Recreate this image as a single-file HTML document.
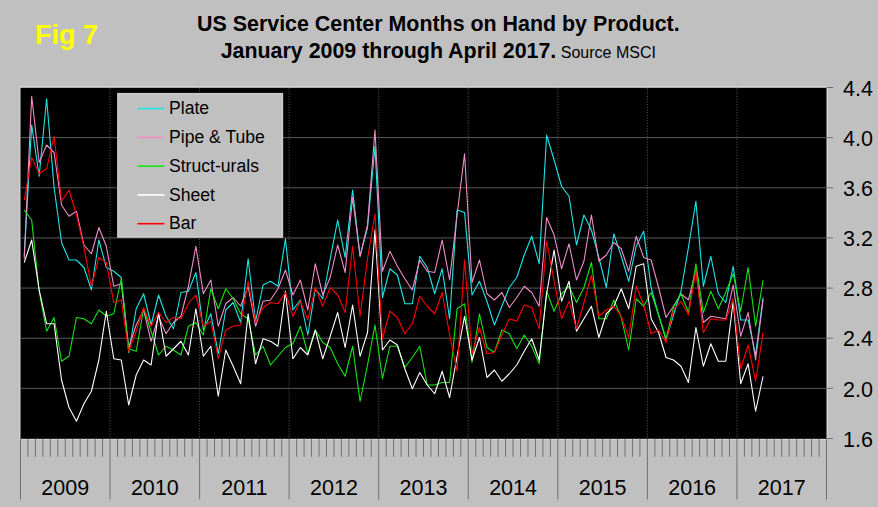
<!DOCTYPE html>
<html><head><meta charset="utf-8"><title>Fig 7</title><style>
html,body{margin:0;padding:0;}
body{width:878px;height:507px;background:#c0c0c0;overflow:hidden;position:relative;font-family:"Liberation Sans",sans-serif;}
svg{position:absolute;left:0;top:0;display:block;}
</style></head><body>
<svg width="878" height="507" viewBox="0 0 878 507" font-family="Liberation Sans, sans-serif">
<rect x="0" y="0" width="878" height="507" fill="#c0c0c0"/>
<text x="35" y="43.8" fill="#ffff00" font-weight="bold" font-size="27">Fig 7</text>
<text x="438.4" y="30.8" fill="#000" font-weight="bold" font-size="21.4" text-anchor="middle">US Service Center Months on Hand by Product.</text>
<text x="438.3" y="57.6" fill="#000" font-size="21.4" text-anchor="middle"><tspan font-weight="bold">January 2009 through April 2017.</tspan><tspan font-size="16"> Source MSCI</tspan></text>
<rect x="19.3" y="86.2" width="808.6" height="353.7" fill="#d6d6d6"/>
<rect x="20.5" y="87.8" width="806.0" height="351.0" fill="#000"/>
<g stroke="#5a5a5a" stroke-width="1"><line x1="20.50" y1="137.64" x2="826.50" y2="137.64"/><line x1="20.50" y1="187.79" x2="826.50" y2="187.79"/><line x1="20.50" y1="237.93" x2="826.50" y2="237.93"/><line x1="20.50" y1="288.08" x2="826.50" y2="288.08"/><line x1="20.50" y1="338.22" x2="826.50" y2="338.22"/><line x1="20.50" y1="388.36" x2="826.50" y2="388.36"/></g>
<g stroke="#5c5c5c" stroke-width="1" stroke-dasharray="1,1.7"><line x1="110.06" y1="87.80" x2="110.06" y2="438.80"/><line x1="199.61" y1="87.80" x2="199.61" y2="438.80"/><line x1="289.17" y1="87.80" x2="289.17" y2="438.80"/><line x1="378.72" y1="87.80" x2="378.72" y2="438.80"/><line x1="468.28" y1="87.80" x2="468.28" y2="438.80"/><line x1="557.83" y1="87.80" x2="557.83" y2="438.80"/><line x1="647.39" y1="87.80" x2="647.39" y2="438.80"/><line x1="736.94" y1="87.80" x2="736.94" y2="438.80"/></g>
<g stroke="#707070" stroke-width="1"><line x1="20.50" y1="438.80" x2="20.50" y2="499.5"/><line x1="27.96" y1="438.80" x2="27.96" y2="456.8"/><line x1="35.43" y1="438.80" x2="35.43" y2="456.8"/><line x1="42.89" y1="438.80" x2="42.89" y2="456.8"/><line x1="50.35" y1="438.80" x2="50.35" y2="456.8"/><line x1="57.81" y1="438.80" x2="57.81" y2="456.8"/><line x1="65.28" y1="438.80" x2="65.28" y2="456.8"/><line x1="72.74" y1="438.80" x2="72.74" y2="456.8"/><line x1="80.20" y1="438.80" x2="80.20" y2="456.8"/><line x1="87.67" y1="438.80" x2="87.67" y2="456.8"/><line x1="95.13" y1="438.80" x2="95.13" y2="456.8"/><line x1="102.59" y1="438.80" x2="102.59" y2="456.8"/><line x1="110.06" y1="438.80" x2="110.06" y2="499.5"/><line x1="117.52" y1="438.80" x2="117.52" y2="456.8"/><line x1="124.98" y1="438.80" x2="124.98" y2="456.8"/><line x1="132.44" y1="438.80" x2="132.44" y2="456.8"/><line x1="139.91" y1="438.80" x2="139.91" y2="456.8"/><line x1="147.37" y1="438.80" x2="147.37" y2="456.8"/><line x1="154.83" y1="438.80" x2="154.83" y2="456.8"/><line x1="162.30" y1="438.80" x2="162.30" y2="456.8"/><line x1="169.76" y1="438.80" x2="169.76" y2="456.8"/><line x1="177.22" y1="438.80" x2="177.22" y2="456.8"/><line x1="184.69" y1="438.80" x2="184.69" y2="456.8"/><line x1="192.15" y1="438.80" x2="192.15" y2="456.8"/><line x1="199.61" y1="438.80" x2="199.61" y2="499.5"/><line x1="207.07" y1="438.80" x2="207.07" y2="456.8"/><line x1="214.54" y1="438.80" x2="214.54" y2="456.8"/><line x1="222.00" y1="438.80" x2="222.00" y2="456.8"/><line x1="229.46" y1="438.80" x2="229.46" y2="456.8"/><line x1="236.93" y1="438.80" x2="236.93" y2="456.8"/><line x1="244.39" y1="438.80" x2="244.39" y2="456.8"/><line x1="251.85" y1="438.80" x2="251.85" y2="456.8"/><line x1="259.31" y1="438.80" x2="259.31" y2="456.8"/><line x1="266.78" y1="438.80" x2="266.78" y2="456.8"/><line x1="274.24" y1="438.80" x2="274.24" y2="456.8"/><line x1="281.70" y1="438.80" x2="281.70" y2="456.8"/><line x1="289.17" y1="438.80" x2="289.17" y2="499.5"/><line x1="296.63" y1="438.80" x2="296.63" y2="456.8"/><line x1="304.09" y1="438.80" x2="304.09" y2="456.8"/><line x1="311.56" y1="438.80" x2="311.56" y2="456.8"/><line x1="319.02" y1="438.80" x2="319.02" y2="456.8"/><line x1="326.48" y1="438.80" x2="326.48" y2="456.8"/><line x1="333.94" y1="438.80" x2="333.94" y2="456.8"/><line x1="341.41" y1="438.80" x2="341.41" y2="456.8"/><line x1="348.87" y1="438.80" x2="348.87" y2="456.8"/><line x1="356.33" y1="438.80" x2="356.33" y2="456.8"/><line x1="363.80" y1="438.80" x2="363.80" y2="456.8"/><line x1="371.26" y1="438.80" x2="371.26" y2="456.8"/><line x1="378.72" y1="438.80" x2="378.72" y2="499.5"/><line x1="386.19" y1="438.80" x2="386.19" y2="456.8"/><line x1="393.65" y1="438.80" x2="393.65" y2="456.8"/><line x1="401.11" y1="438.80" x2="401.11" y2="456.8"/><line x1="408.57" y1="438.80" x2="408.57" y2="456.8"/><line x1="416.04" y1="438.80" x2="416.04" y2="456.8"/><line x1="423.50" y1="438.80" x2="423.50" y2="456.8"/><line x1="430.96" y1="438.80" x2="430.96" y2="456.8"/><line x1="438.43" y1="438.80" x2="438.43" y2="456.8"/><line x1="445.89" y1="438.80" x2="445.89" y2="456.8"/><line x1="453.35" y1="438.80" x2="453.35" y2="456.8"/><line x1="460.81" y1="438.80" x2="460.81" y2="456.8"/><line x1="468.28" y1="438.80" x2="468.28" y2="499.5"/><line x1="475.74" y1="438.80" x2="475.74" y2="456.8"/><line x1="483.20" y1="438.80" x2="483.20" y2="456.8"/><line x1="490.67" y1="438.80" x2="490.67" y2="456.8"/><line x1="498.13" y1="438.80" x2="498.13" y2="456.8"/><line x1="505.59" y1="438.80" x2="505.59" y2="456.8"/><line x1="513.06" y1="438.80" x2="513.06" y2="456.8"/><line x1="520.52" y1="438.80" x2="520.52" y2="456.8"/><line x1="527.98" y1="438.80" x2="527.98" y2="456.8"/><line x1="535.44" y1="438.80" x2="535.44" y2="456.8"/><line x1="542.91" y1="438.80" x2="542.91" y2="456.8"/><line x1="550.37" y1="438.80" x2="550.37" y2="456.8"/><line x1="557.83" y1="438.80" x2="557.83" y2="499.5"/><line x1="565.30" y1="438.80" x2="565.30" y2="456.8"/><line x1="572.76" y1="438.80" x2="572.76" y2="456.8"/><line x1="580.22" y1="438.80" x2="580.22" y2="456.8"/><line x1="587.69" y1="438.80" x2="587.69" y2="456.8"/><line x1="595.15" y1="438.80" x2="595.15" y2="456.8"/><line x1="602.61" y1="438.80" x2="602.61" y2="456.8"/><line x1="610.07" y1="438.80" x2="610.07" y2="456.8"/><line x1="617.54" y1="438.80" x2="617.54" y2="456.8"/><line x1="625.00" y1="438.80" x2="625.00" y2="456.8"/><line x1="632.46" y1="438.80" x2="632.46" y2="456.8"/><line x1="639.93" y1="438.80" x2="639.93" y2="456.8"/><line x1="647.39" y1="438.80" x2="647.39" y2="499.5"/><line x1="654.85" y1="438.80" x2="654.85" y2="456.8"/><line x1="662.31" y1="438.80" x2="662.31" y2="456.8"/><line x1="669.78" y1="438.80" x2="669.78" y2="456.8"/><line x1="677.24" y1="438.80" x2="677.24" y2="456.8"/><line x1="684.70" y1="438.80" x2="684.70" y2="456.8"/><line x1="692.17" y1="438.80" x2="692.17" y2="456.8"/><line x1="699.63" y1="438.80" x2="699.63" y2="456.8"/><line x1="707.09" y1="438.80" x2="707.09" y2="456.8"/><line x1="714.56" y1="438.80" x2="714.56" y2="456.8"/><line x1="722.02" y1="438.80" x2="722.02" y2="456.8"/><line x1="729.48" y1="438.80" x2="729.48" y2="456.8"/><line x1="736.94" y1="438.80" x2="736.94" y2="499.5"/><line x1="744.41" y1="438.80" x2="744.41" y2="456.8"/><line x1="751.87" y1="438.80" x2="751.87" y2="456.8"/><line x1="759.33" y1="438.80" x2="759.33" y2="456.8"/><line x1="766.80" y1="438.80" x2="766.80" y2="456.8"/><line x1="774.26" y1="438.80" x2="774.26" y2="456.8"/><line x1="781.72" y1="438.80" x2="781.72" y2="456.8"/><line x1="789.19" y1="438.80" x2="789.19" y2="456.8"/><line x1="796.65" y1="438.80" x2="796.65" y2="456.8"/><line x1="804.11" y1="438.80" x2="804.11" y2="456.8"/><line x1="811.57" y1="438.80" x2="811.57" y2="456.8"/><line x1="819.04" y1="438.80" x2="819.04" y2="456.8"/><line x1="826.50" y1="438.80" x2="826.50" y2="499.5"/><line x1="826.50" y1="87.50" x2="833" y2="87.50"/><line x1="826.50" y1="137.64" x2="833" y2="137.64"/><line x1="826.50" y1="187.79" x2="833" y2="187.79"/><line x1="826.50" y1="237.93" x2="833" y2="237.93"/><line x1="826.50" y1="288.08" x2="833" y2="288.08"/><line x1="826.50" y1="338.22" x2="833" y2="338.22"/><line x1="826.50" y1="388.36" x2="833" y2="388.36"/><line x1="826.50" y1="438.51" x2="833" y2="438.51"/></g>
<g font-size="21.5" fill="#000"><text x="843" y="95.70">4.4</text><text x="843" y="145.84">4.0</text><text x="843" y="195.99">3.6</text><text x="843" y="246.13">3.2</text><text x="843" y="296.28">2.8</text><text x="843" y="346.42">2.4</text><text x="843" y="396.56">2.0</text><text x="843" y="446.71">1.6</text><text x="65.28" y="494.5" text-anchor="middle">2009</text><text x="154.83" y="494.5" text-anchor="middle">2010</text><text x="244.39" y="494.5" text-anchor="middle">2011</text><text x="333.94" y="494.5" text-anchor="middle">2012</text><text x="423.50" y="494.5" text-anchor="middle">2013</text><text x="513.06" y="494.5" text-anchor="middle">2014</text><text x="602.61" y="494.5" text-anchor="middle">2015</text><text x="692.17" y="494.5" text-anchor="middle">2016</text><text x="781.72" y="494.5" text-anchor="middle">2017</text></g>
<polyline fill="none" stroke="#1ee6e6" stroke-width="1.1" stroke-linejoin="round" points="24.23,256.25 31.69,125.00 39.16,176.25 46.62,98.75 54.08,187.50 61.55,242.50 69.01,260.00 76.47,260.00 83.94,267.50 91.40,290.00 98.86,240.00 106.32,267.50 113.79,271.25 121.25,277.50 128.71,352.50 136.18,308.75 143.64,293.75 151.10,325.00 158.56,295.00 166.03,316.25 173.49,328.75 180.95,292.50 188.42,291.25 195.88,272.50 203.34,330.00 210.81,313.75 218.27,353.75 225.73,310.00 233.19,302.50 240.66,322.50 248.12,258.75 255.58,321.25 263.05,285.00 270.51,281.25 277.97,286.25 285.44,238.75 292.90,310.00 300.36,300.00 307.82,335.00 315.29,288.75 322.75,298.75 330.21,258.75 337.68,220.00 345.14,257.50 352.60,190.00 360.06,256.25 367.53,227.50 374.99,146.25 382.45,297.50 389.92,268.75 397.38,275.00 404.84,303.75 412.31,303.75 419.77,256.25 427.23,267.50 434.69,293.75 442.16,268.75 449.62,318.75 457.08,210.00 464.55,212.50 472.01,295.00 479.47,281.25 486.94,301.25 494.40,325.00 501.86,306.25 509.32,287.50 516.79,277.50 524.25,255.00 531.71,236.25 539.18,263.75 546.64,135.00 554.10,160.00 561.56,186.25 569.03,196.25 576.49,245.00 583.95,215.00 591.42,230.00 598.88,257.50 606.34,287.50 613.81,233.75 621.27,256.25 628.73,281.25 636.19,246.25 643.66,231.25 651.12,287.50 658.58,315.00 666.05,340.00 673.51,315.00 680.97,291.25 688.44,247.50 695.90,201.25 703.36,286.25 710.82,256.25 718.29,293.75 725.75,302.50 733.21,266.25 740.68,320.00 748.14,320.00 755.60,355.00 763.06,297.50"/>
<polyline fill="none" stroke="#f08cc8" stroke-width="1.1" stroke-linejoin="round" points="24.23,258.75 31.69,96.25 39.16,162.50 46.62,145.00 54.08,152.50 61.55,205.00 69.01,216.25 76.47,211.25 83.94,245.00 91.40,253.75 98.86,227.50 106.32,246.25 113.79,286.25 121.25,283.75 128.71,347.50 136.18,325.00 143.64,310.00 151.10,341.25 158.56,316.25 166.03,333.75 173.49,322.50 180.95,316.25 188.42,286.25 195.88,246.25 203.34,293.75 210.81,280.00 218.27,326.25 225.73,303.75 233.19,297.50 240.66,306.25 248.12,286.25 255.58,326.25 263.05,301.25 270.51,300.00 277.97,288.75 285.44,270.00 292.90,295.00 300.36,280.00 307.82,310.00 315.29,263.75 322.75,295.00 330.21,277.50 337.68,245.00 345.14,272.50 352.60,197.50 360.06,256.25 367.53,225.00 374.99,130.00 382.45,271.25 389.92,251.25 397.38,266.25 404.84,278.75 412.31,290.00 419.77,260.00 427.23,271.25 434.69,272.50 442.16,240.00 449.62,280.00 457.08,215.00 464.55,153.75 472.01,282.50 479.47,260.00 486.94,293.75 494.40,300.00 501.86,292.50 509.32,307.50 516.79,297.50 524.25,286.25 531.71,292.50 539.18,306.25 546.64,217.50 554.10,235.00 561.56,268.75 569.03,243.75 576.49,280.00 583.95,261.25 591.42,215.00 598.88,261.25 606.34,255.00 613.81,242.50 621.27,248.75 628.73,271.25 636.19,236.25 643.66,257.50 651.12,260.00 658.58,287.50 666.05,317.50 673.51,306.25 680.97,293.75 688.44,300.00 695.90,270.00 703.36,322.50 710.82,316.25 718.29,317.50 725.75,318.75 733.21,285.00 740.68,336.25 748.14,312.50 755.60,360.00 763.06,300.00"/>
<polyline fill="none" stroke="#14e614" stroke-width="1.1" stroke-linejoin="round" points="24.23,210.00 31.69,220.00 39.16,291.25 46.62,331.25 54.08,317.50 61.55,361.25 69.01,356.25 76.47,317.50 83.94,318.75 91.40,323.75 98.86,310.00 106.32,316.25 113.79,313.75 121.25,278.75 128.71,348.75 136.18,351.25 143.64,308.75 151.10,331.25 158.56,355.00 166.03,346.25 173.49,350.00 180.95,355.00 188.42,326.25 195.88,322.50 203.34,335.00 210.81,288.75 218.27,308.75 225.73,288.75 233.19,298.75 240.66,313.75 248.12,318.75 255.58,355.00 263.05,346.25 270.51,365.00 277.97,356.25 285.44,347.50 292.90,343.75 300.36,326.25 307.82,353.75 315.29,330.00 322.75,342.50 330.21,347.50 337.68,363.75 345.14,376.25 352.60,346.25 360.06,401.25 367.53,365.00 374.99,325.00 382.45,378.75 389.92,346.25 397.38,346.25 404.84,367.50 412.31,357.50 419.77,346.25 427.23,385.00 434.69,385.00 442.16,382.50 449.62,382.50 457.08,308.75 464.55,303.75 472.01,362.50 479.47,313.75 486.94,347.50 494.40,352.50 501.86,330.00 509.32,333.75 516.79,348.75 524.25,335.00 531.71,346.25 539.18,363.75 546.64,291.25 554.10,311.25 561.56,293.75 569.03,286.25 576.49,302.50 583.95,287.50 591.42,262.50 598.88,318.75 606.34,318.75 613.81,300.00 621.27,317.50 628.73,350.00 636.19,298.75 643.66,306.25 651.12,292.50 658.58,315.00 666.05,338.75 673.51,307.50 680.97,293.75 688.44,312.50 695.90,263.75 703.36,312.50 710.82,291.25 718.29,308.75 725.75,292.50 733.21,273.75 740.68,311.25 748.14,267.50 755.60,326.25 763.06,280.00"/>
<polyline fill="none" stroke="#ffffff" stroke-width="1.1" stroke-linejoin="round" points="24.23,262.50 31.69,240.00 39.16,290.00 46.62,323.75 54.08,323.75 61.55,380.00 69.01,407.50 76.47,421.25 83.94,403.75 91.40,391.25 98.86,360.00 106.32,311.25 113.79,358.75 121.25,360.00 128.71,405.00 136.18,375.00 143.64,360.00 151.10,365.00 158.56,312.50 166.03,356.25 173.49,348.75 180.95,341.25 188.42,355.00 195.88,308.75 203.34,356.25 210.81,346.25 218.27,396.25 225.73,350.00 233.19,366.25 240.66,383.75 248.12,313.75 255.58,363.75 263.05,338.75 270.51,341.25 277.97,346.25 285.44,291.25 292.90,358.75 300.36,347.50 307.82,355.00 315.29,330.00 322.75,358.75 330.21,336.25 337.68,312.50 345.14,347.50 352.60,305.00 360.06,356.25 367.53,332.50 374.99,230.00 382.45,350.00 389.92,340.00 397.38,345.00 404.84,368.75 412.31,388.75 419.77,372.50 427.23,385.00 434.69,393.75 442.16,371.25 449.62,397.50 457.08,356.25 464.55,316.25 472.01,360.00 479.47,337.50 486.94,377.50 494.40,370.00 501.86,381.25 509.32,373.75 516.79,365.00 524.25,351.25 531.71,338.75 539.18,360.00 546.64,293.75 554.10,250.00 561.56,301.25 569.03,281.25 576.49,331.25 583.95,318.75 591.42,306.25 598.88,337.50 606.34,313.75 613.81,306.25 621.27,288.75 628.73,308.75 636.19,266.25 643.66,263.75 651.12,318.75 658.58,332.50 666.05,357.50 673.51,360.00 680.97,366.25 688.44,382.50 695.90,327.50 703.36,366.25 710.82,343.75 718.29,361.25 725.75,361.25 733.21,301.25 740.68,383.75 748.14,363.75 755.60,411.25 763.06,376.25"/>
<polyline fill="none" stroke="#ff0000" stroke-width="1.1" stroke-linejoin="round" points="24.23,200.00 31.69,157.50 39.16,173.75 46.62,168.75 54.08,136.25 61.55,201.25 69.01,190.00 76.47,215.00 83.94,247.50 91.40,286.25 98.86,257.50 106.32,262.50 113.79,302.50 121.25,300.00 128.71,351.25 136.18,331.25 143.64,307.50 151.10,326.25 158.56,312.50 166.03,322.50 173.49,317.50 180.95,318.75 188.42,303.75 195.88,295.00 203.34,326.25 210.81,321.25 218.27,358.75 225.73,330.00 233.19,326.25 240.66,325.00 248.12,281.25 255.58,322.50 263.05,307.50 270.51,302.50 277.97,303.75 285.44,292.50 292.90,316.25 300.36,301.25 307.82,320.00 315.29,287.50 322.75,306.25 330.21,287.50 337.68,295.00 345.14,312.50 352.60,246.25 360.06,316.25 367.53,258.75 374.99,213.75 382.45,338.75 389.92,311.25 397.38,317.50 404.84,333.75 412.31,323.75 419.77,296.25 427.23,306.25 434.69,313.75 442.16,292.50 449.62,335.00 457.08,371.25 464.55,260.00 472.01,353.75 479.47,327.50 486.94,353.75 494.40,352.50 501.86,335.00 509.32,318.75 516.79,321.25 524.25,305.00 531.71,307.50 539.18,328.75 546.64,241.25 554.10,281.25 561.56,318.75 569.03,301.25 576.49,328.75 583.95,302.50 591.42,275.00 598.88,316.25 606.34,310.00 613.81,306.25 621.27,316.25 628.73,337.50 636.19,286.25 643.66,305.00 651.12,333.75 658.58,330.00 666.05,342.50 673.51,310.00 680.97,301.25 688.44,315.00 695.90,271.25 703.36,332.50 710.82,318.75 718.29,320.00 725.75,320.00 733.21,298.75 740.68,368.75 748.14,345.00 755.60,381.25 763.06,332.50"/>

<g font-size="17.6" fill="#000"><rect x="117.1" y="92.9" width="166.1" height="144.9" fill="#c0c0c0"/><rect x="118.1" y="93.9" width="164.1" height="142.9" fill="none" stroke="#cecece" stroke-width="1"/><line x1="137.5" y1="108.6" x2="164.5" y2="108.6" stroke="#1ee6e6" stroke-width="1.6"/><text x="169" y="114.2">Plate</text><line x1="137.5" y1="137.4" x2="164.5" y2="137.4" stroke="#f08cc8" stroke-width="1.6"/><text x="169" y="143.0">Pipe &amp; Tube</text><line x1="137.5" y1="166.2" x2="164.5" y2="166.2" stroke="#14e614" stroke-width="1.6"/><text x="169" y="171.8">Struct-urals</text><line x1="137.5" y1="194.9" x2="164.5" y2="194.9" stroke="#ffffff" stroke-width="1.6"/><text x="169" y="200.5">Sheet</text><line x1="137.5" y1="223.7" x2="164.5" y2="223.7" stroke="#ff0000" stroke-width="1.6"/><text x="169" y="229.3">Bar</text></g>
</svg>
</body></html>
